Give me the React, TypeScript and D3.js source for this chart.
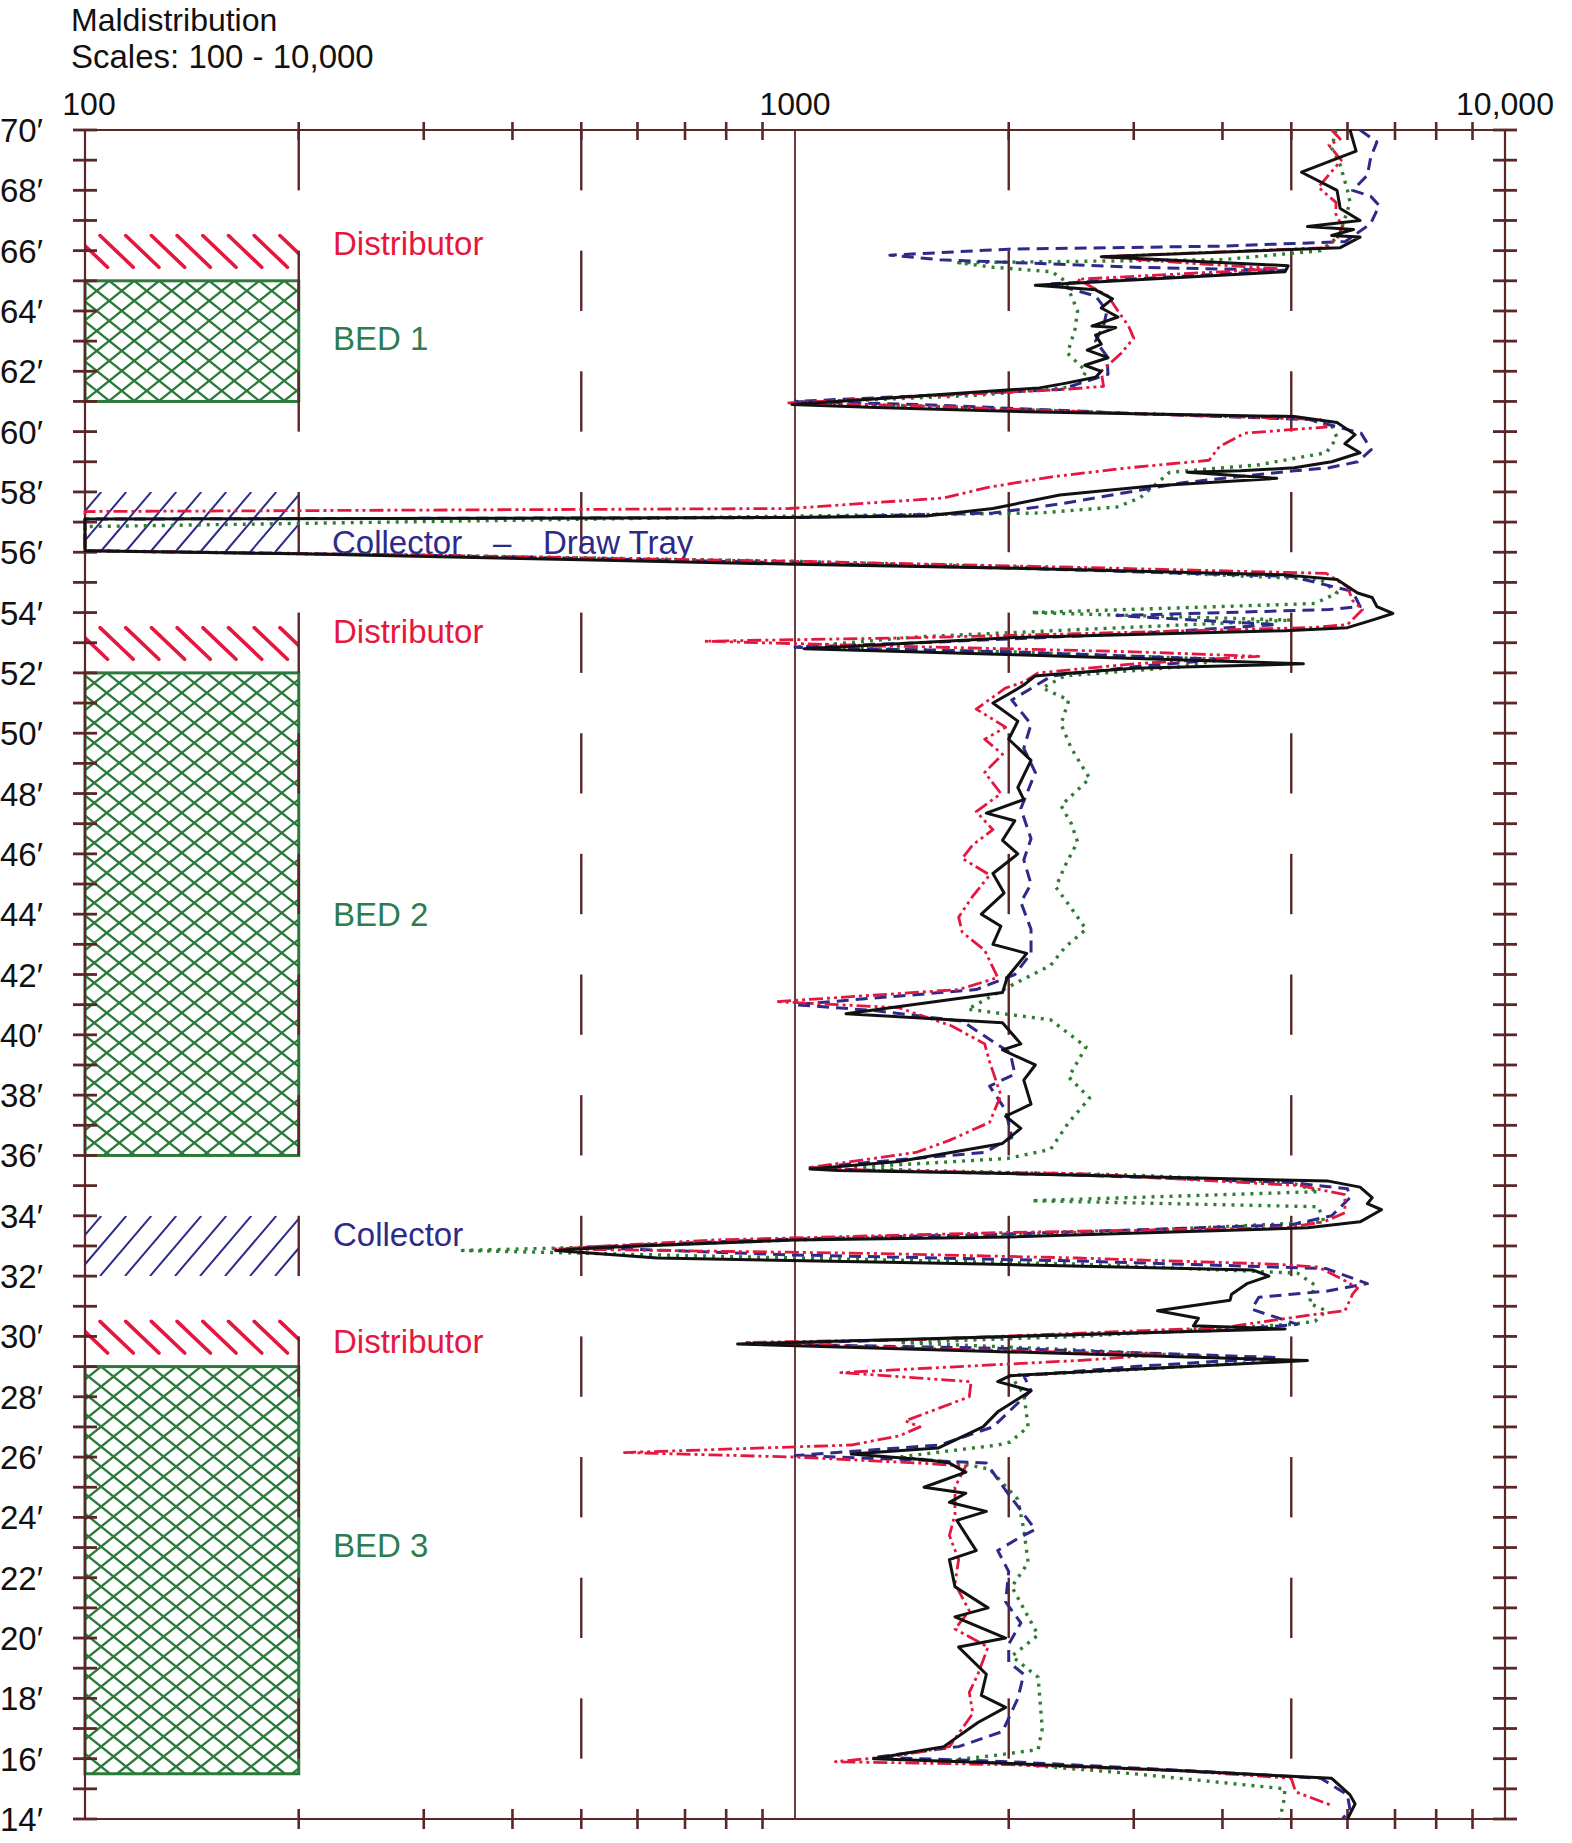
import React from 'react';
import * as d3 from 'd3';

const W = 1572;
const H = 1843;

// ---------- axis data ----------
const depthTicks = d3.range(70, 13.5, -1);
const depthLabels = d3.range(70, 13.5, -2);
const minorValueTicks = [200, 300, 400, 500, 600, 700, 800, 900, 2000, 3000, 4000, 5000, 6000, 7000, 8000, 9000];
const gridValues = [200, 500, 2000, 5000];
const topLabels: [number, string][] = [[100, '100'], [1000, '1000'], [10000, '10,000']];

// ---------- zones (depth in ft) ----------
const distributorZones: [number, number][] = [[66.5, 65.45], [53.5, 52.45], [30.5, 29.45]];
const collectorZones: [number, number][] = [[58, 56], [34, 32]];
const bedZones: [number, number][] = [[65, 61], [52, 36], [29, 15.5]];

// label text, centre depth, kind
const zoneLabels: [string, number, string][] = [
  ['Distributor', 66.25, 'red'],
  ['BED 1', 63.1, 'green'],
  ['Distributor', 53.4, 'red'],
  ['BED 2', 44.0, 'green'],
  ['Collector', 33.4, 'blue'],
  ['Distributor', 29.85, 'red'],
  ['BED 3', 23.1, 'green'],
];
const drawTrayLabel: [string, string, string, number] = ['Collector', '–', 'Draw Tray', 56.35];

// ---------- series: [depth ft, value] ----------
const blackSeries: [number, number][] = [
  [70.0, 6050], [69.3, 6170], [68.6, 5170], [68.0, 5800], [67.4, 5860], [67.0, 6250], [66.8, 5270],
  [66.7, 6120], [66.5, 5700], [66.45, 6250], [66.1, 5860], [65.8, 2700], [65.5, 4950], [65.3, 4900],
  [64.85, 2180], [64.7, 2650], [64.4, 2800], [64.1, 2700], [63.8, 2850], [63.5, 2620], [63.45, 2830],
  [63.2, 2650], [62.9, 2700], [62.7, 2580], [62.45, 2760], [62.2, 2560], [62.0, 2700], [61.8, 2650],
  [61.6, 2400], [61.45, 2210], [60.9, 990], [60.8, 1300], [60.65, 2200], [60.5, 5050], [60.3, 5800],
  [59.9, 6150], [59.6, 5950], [59.3, 6250], [59.0, 5700], [58.8, 5050], [58.7, 4240], [58.65, 3570],
  [58.45, 4770], [58.2, 3180], [57.9, 2360], [57.45, 1900], [57.2, 1530], [57.15, 980], [57.1, 100],
  [56.05, 100], [55.95, 200], [55.75, 500], [55.6, 1000], [55.47, 2040], [55.25, 4900], [55.1, 5800],
  [54.65, 6200], [54.5, 6500], [54.2, 6600], [53.97, 6950], [53.75, 6500], [53.5, 6000], [53.4, 4900],
  [53.17, 2040], [52.85, 1130], [52.8, 1030], [52.6, 2040], [52.3, 5200], [52.15, 3000], [51.95, 2300],
  [51.9, 2180], [51.6, 2100], [51.3, 2000], [51.0, 1900], [50.4, 2060], [49.8, 2000], [49.1, 2150],
  [48.2, 2060], [47.8, 2100], [47.35, 1860], [47.1, 2040], [46.45, 1960], [46.0, 2060], [45.35, 1900],
  [44.7, 1970], [44.0, 1830], [43.6, 1950], [43.0, 1900], [42.7, 2120], [41.9, 1990], [41.4, 1960],
  [40.7, 1180], [40.4, 1960], [39.7, 2080], [39.5, 1960], [39.0, 2180], [38.5, 2100], [37.7, 2150],
  [37.3, 1980], [36.9, 2080], [36.4, 1960], [35.8, 1400], [35.55, 1050], [35.5, 1150], [35.4, 2000],
  [35.15, 5640], [34.95, 6250], [34.6, 6500], [34.4, 6400], [34.2, 6700], [33.8, 6250], [33.6, 5270],
  [33.3, 2010], [33.2, 1000], [32.95, 535], [32.85, 460], [32.6, 640], [32.4, 1840], [32.2, 4420],
  [32.0, 4650], [31.75, 4330], [31.4, 4120], [31.2, 4100], [30.85, 3240], [30.6, 3700], [30.35, 3640],
  [30.25, 4900], [29.75, 830], [29.2, 5270], [28.7, 2010], [28.5, 1930], [28.2, 2150], [27.5, 1930],
  [27.0, 1840], [26.3, 1590], [26.1, 1200], [25.9, 1540], [25.8, 1650], [25.5, 1740], [25.0, 1520],
  [24.8, 1740], [24.5, 1650], [24.2, 1860], [23.9, 1690], [22.9, 1800], [22.6, 1650], [21.7, 1680],
  [21.0, 1870], [20.7, 1680], [20.0, 1980], [19.7, 1700], [18.8, 1860], [18.1, 1830], [17.7, 1980],
  [17.2, 1810], [16.4, 1620], [16.0, 1290], [15.85, 1980], [15.6, 3500], [15.35, 5700], [14.8, 6050],
  [14.5, 6150], [14.0, 6000],
];

const redSeries: [number, number][] = [
  [70.0, 5700], [69.7, 5860], [69.5, 5650], [69.0, 5880], [68.1, 5460], [67.6, 5780], [67.2, 5780],
  [66.8, 5900], [66.4, 5800], [66.1, 5600], [65.8, 2700], [65.6, 3500], [65.4, 4800], [65.05, 2500],
  [64.5, 2760], [64.0, 2850], [63.5, 2950], [63.1, 3000], [62.6, 2880], [62.0, 2700], [61.5, 2720],
  [61.4, 2400], [60.95, 980], [60.85, 1500], [60.6, 3000], [60.4, 5500], [60.15, 5600], [59.95, 4300],
  [59.5, 3960], [59.05, 3830], [58.8, 2950], [58.5, 2300], [58.15, 1870], [57.8, 1620], [57.45, 980],
  [57.35, 100], [56.05, 100], [55.9, 300], [55.7, 1000], [55.5, 2500], [55.3, 5600], [54.85, 6000],
  [54.4, 6100], [54.1, 6300], [53.6, 6000], [53.5, 5300], [53.3, 2500], [53.17, 1500], [53.05, 746],
  [52.9, 1300], [52.7, 3000], [52.55, 4500], [52.3, 3000], [52.0, 2200], [51.7, 2100], [51.5, 1980],
  [50.8, 1800], [50.2, 1980], [49.8, 1850], [49.3, 1960], [48.7, 1850], [48.0, 1950], [47.4, 1800],
  [46.8, 1900], [46.3, 1780], [45.85, 1720], [45.3, 1880], [44.6, 1780], [43.9, 1700], [43.4, 1720],
  [42.8, 1850], [41.9, 1930], [41.5, 1700], [41.1, 940], [40.9, 1400], [40.3, 1660], [39.7, 1850],
  [39.1, 1880], [38.0, 1950], [37.1, 1880], [36.5, 1650], [36.1, 1480], [35.6, 1050], [35.5, 1300],
  [35.4, 2500], [35.0, 5150], [34.7, 5950], [34.1, 5950], [33.8, 5560], [33.6, 4900], [33.45, 2010],
  [33.2, 770], [32.9, 458], [32.75, 1300], [32.6, 2500], [32.4, 4700], [32.3, 5460], [31.85, 5950],
  [31.6, 6200], [31.4, 6100], [30.85, 5950], [30.7, 5270], [30.3, 4030], [29.9, 1500], [29.8, 850],
  [29.6, 1500], [29.4, 3300], [29.2, 2500], [28.8, 1160], [28.5, 1770], [28.0, 1760], [27.2, 1430],
  [27.0, 1500], [26.7, 1400], [26.4, 1200], [26.15, 575], [26.0, 1000], [25.8, 1500], [25.7, 1740],
  [25.0, 1680], [24.1, 1680], [23.4, 1650], [22.6, 1700], [21.8, 1680], [20.9, 1760], [20.3, 1680],
  [19.7, 1870], [18.8, 1810], [18.2, 1760], [17.5, 1780], [16.4, 1650], [16.1, 1400], [15.9, 1140],
  [15.8, 2000], [15.6, 3500], [15.35, 5000], [14.9, 5070], [14.45, 5700],
];

const blueSeries: [number, number][] = [
  [70.0, 6250], [69.6, 6600], [69.1, 6470], [68.5, 6400], [68.0, 6100], [67.8, 6470], [67.5, 6650],
  [66.9, 6470], [66.3, 5960], [66.15, 4000], [66.05, 2000], [65.85, 1360], [65.7, 1600], [65.45, 3000],
  [65.35, 4900], [64.9, 2300], [64.5, 2650], [64.0, 2750], [63.5, 2720], [63.0, 2650], [62.5, 2750],
  [61.9, 2760], [61.4, 2370], [61.0, 1000], [60.9, 1500], [60.6, 3000], [60.4, 5300], [59.95, 6270],
  [59.4, 6480], [59.0, 6200], [58.8, 5650], [58.7, 5050], [58.3, 3500], [57.6, 2360], [57.3, 1900],
  [57.15, 1000], [57.1, 100], [56.05, 100], [55.9, 300], [55.65, 1000], [55.45, 2200], [55.2, 5000],
  [54.7, 6100], [54.2, 6250], [54.1, 5650], [53.9, 2840], [53.6, 4770], [53.3, 3000], [53.0, 1500],
  [52.85, 1000], [52.7, 2000], [52.45, 4000], [52.2, 3000], [51.9, 2300], [51.1, 2020], [50.3, 2150],
  [49.5, 2100], [48.7, 2180], [47.5, 2080], [46.5, 2150], [45.8, 2100], [45.0, 2150], [44.4, 2080],
  [43.5, 2150], [42.7, 2150], [42.0, 2040], [41.5, 1800], [41.0, 1000], [40.8, 1300], [40.45, 1720],
  [39.4, 2010], [38.7, 2040], [38.3, 1880], [37.5, 1980], [36.6, 2020], [36.1, 1850], [35.6, 1050],
  [35.5, 1300], [35.35, 2500], [35.1, 5000], [34.9, 6000], [34.6, 6050], [34.0, 5700], [33.7, 5000],
  [33.4, 2000], [33.2, 900], [32.95, 500], [32.7, 1000], [32.5, 2500], [32.25, 5600], [31.75, 6400],
  [31.5, 5600], [31.3, 4500], [30.9, 4400], [30.4, 5100], [30.2, 4000], [29.75, 900], [29.6, 2000],
  [29.3, 4800], [29.0, 3000], [28.7, 2100], [28.2, 2150], [27.5, 2000], [27.0, 1900], [26.4, 1600],
  [26.05, 1000], [25.9, 1500], [25.8, 1860], [24.9, 1980], [23.6, 2180], [23.3, 2060], [22.9, 1930],
  [22.2, 2000], [21.2, 1980], [20.5, 2080], [19.8, 2000], [19.2, 2000], [18.8, 2100], [18.0, 2060],
  [16.9, 1960], [16.4, 1700], [16.05, 1300], [15.9, 2000], [15.6, 3600], [15.35, 5500], [14.8, 6000],
  [14.3, 6050], [14.0, 5900],
];

const greenSeries: [number, number][] = [
  [70.0, 5780], [69.4, 5700], [68.9, 5850], [68.0, 6000], [67.6, 6050], [66.8, 5900], [66.5, 5850],
  [66.0, 5500], [65.7, 4000], [65.6, 1700], [65.45, 1900], [65.3, 2300], [65.0, 2400], [64.5, 2450],
  [64.0, 2500], [63.4, 2480], [62.6, 2420], [62.0, 2570], [61.5, 2500], [61.2, 1800], [60.95, 1000],
  [60.85, 1500], [60.6, 3000], [60.45, 5200], [60.2, 5700], [59.8, 5800], [59.3, 5600], [58.9, 4500],
  [58.65, 3370], [57.8, 3060], [57.5, 2840], [57.3, 2200], [57.2, 1000], [56.85, 100], [56.05, 100],
  [55.9, 300], [55.7, 1000], [55.45, 2500], [55.1, 5500], [54.65, 5800], [54.3, 5400], [54.0, 2150],
  [53.75, 5000], [53.2, 1500], [52.85, 1000], [52.7, 2000], [52.45, 4000], [52.2, 3500], [51.9, 2400],
  [51.5, 2230], [51.1, 2430], [50.3, 2370], [49.5, 2450], [48.5, 2600], [47.6, 2370], [47.0, 2450],
  [46.4, 2500], [45.6, 2400], [44.9, 2330], [44.2, 2450], [43.5, 2570], [42.9, 2400], [42.3, 2290],
  [41.7, 2040], [40.85, 1750], [40.5, 2290], [39.6, 2570], [38.6, 2430], [37.9, 2600], [37.1, 2430],
  [36.2, 2290], [35.9, 1990], [35.6, 1200], [35.5, 1500], [35.35, 3000], [35.1, 5000], [34.8, 5460],
  [34.5, 2150], [34.3, 5460], [33.8, 5560], [33.5, 3000], [33.2, 1000], [32.95, 500], [32.85, 340],
  [32.65, 800], [32.4, 2500], [32.1, 5100], [31.7, 5400], [31.1, 5300], [30.85, 5600], [30.5, 5400],
  [30.4, 5000], [30.0, 2500], [29.8, 1400], [29.55, 2500], [29.2, 4900], [28.9, 3000], [28.7, 2010],
  [28.1, 2100], [27.0, 2130], [26.5, 2010], [26.4, 1930], [26.0, 1400], [25.8, 1700], [25.6, 1880],
  [24.6, 2060], [23.6, 2100], [22.5, 2130], [21.7, 2020], [20.1, 2200], [19.4, 2020], [18.7, 2200],
  [17.0, 2230], [16.3, 2200], [16.1, 1900], [15.95, 1650], [15.8, 2100], [15.5, 3000], [15.0, 4900],
  [14.6, 4880], [14.0, 4820],
];

// ---------- styles ----------
const AXIS = '#5a2626';
const RED = '#e5173f';
const BLUE = '#2e2a8a';
const GREEN = '#2b7a3b';
const GREEN_TEXT = '#2e7d4f';
const FONT = "'Liberation Sans', Arial, Helvetica, sans-serif";

const seriesStyles = [
  { data: greenSeries, color: '#2e7d32', dash: '3 6', width: 3.4 },
  { data: blueSeries, color: BLUE, dash: '12 7', width: 3 },
  { data: redSeries, color: RED, dash: '14 4 3 4 3 4', width: 2.8 },
  { data: blackSeries, color: '#111111', dash: null, width: 3 },
];

export default function App() {
  const x = d3.scaleLog().domain([100, 10000]).range([85, 1505]);
  const y = d3.scaleLinear().domain([70, 14]).range([130, 1819]);
  const line = d3.line<[number, number]>().x(d => x(d[1])).y(d => y(d[0]));

  const left = x(100);
  const right = x(10000);
  const top = y(70);
  const bottom = y(14);
  const zoneRight = x(200);

  const colorOf = (k: string) => (k === 'red' ? RED : k === 'blue' ? BLUE : GREEN_TEXT);

  const distLines = (t: number, b: number) => {
    const y0 = y(t), y1 = y(b);
    const h = y1 - y0;
    const out: [number, number, number, number][] = [];
    for (let x0 = left + 15 - 25.7 * 2; x0 < zoneRight + 10; x0 += 25.7) {
      out.push([x0, y0, x0 + h * 1.05, y1]);
    }
    return out;
  };
  const collLines = (t: number, b: number) => {
    const y0 = y(t), y1 = y(b);
    const h = y1 - y0;
    const out: [number, number, number, number][] = [];
    for (let x0 = left - 60; x0 < zoneRight + 10; x0 += 25) {
      out.push([x0, y1, x0 + h * 0.85, y0]);
    }
    return out;
  };
  const bedLines = (t: number, b: number) => {
    const y0 = y(t), y1 = y(b);
    const h = y1 - y0;
    const out: [number, number, number, number][] = [];
    const k = 25 / 20;
    for (let x0 = left - h * k - 25; x0 < zoneRight + h * k + 25; x0 += 25) {
      out.push([x0, y0, x0 + h * k, y1]);
      out.push([x0, y0, x0 - h * k, y1]);
    }
    return out;
  };

  const labelFont = 33;

  return (
    <svg
      width={W}
      height={H}
      style={{ position: 'absolute', left: 0, top: 0, background: '#ffffff' }}
      fontFamily={FONT}
    >
      <rect x={0} y={0} width={W} height={H} fill="#ffffff" />
      <defs>
        {distributorZones.map((z, i) => (
          <clipPath id={`dclip${i}`} key={`dc${i}`}>
            <rect x={left} y={y(z[0]) - 2} width={zoneRight - left} height={y(z[1]) - y(z[0]) + 4} />
          </clipPath>
        ))}
        {collectorZones.map((z, i) => (
          <clipPath id={`cclip${i}`} key={`cc${i}`}>
            <rect x={left} y={y(z[0])} width={zoneRight - left} height={y(z[1]) - y(z[0])} />
          </clipPath>
        ))}
        {bedZones.map((z, i) => (
          <clipPath id={`bclip${i}`} key={`bc${i}`}>
            <rect x={left} y={y(z[0])} width={zoneRight - left} height={y(z[1]) - y(z[0])} />
          </clipPath>
        ))}
      </defs>

      {/* title */}
      <text x={71} y={31} fontSize={32} fill="#111">Maldistribution</text>
      <text x={71} y={68} fontSize={33} fill="#111">Scales: 100 - 10,000</text>

      {/* zones */}
      {bedZones.map((z, i) => (
        <g key={`bed${i}`}>
          <g clipPath={`url(#bclip${i})`}>
            {bedLines(z[0], z[1]).map((l, j) => (
              <line key={j} x1={l[0]} y1={l[1]} x2={l[2]} y2={l[3]} stroke={GREEN} strokeWidth={2.3} />
            ))}
          </g>
          <rect x={left} y={y(z[0])} width={zoneRight - left} height={y(z[1]) - y(z[0])}
            fill="none" stroke={GREEN} strokeWidth={3} />
        </g>
      ))}
      {distributorZones.map((z, i) => (
        <g key={`dist${i}`} clipPath={`url(#dclip${i})`}>
          {distLines(z[0], z[1]).map((l, j) => (
            <line key={j} x1={l[0]} y1={l[1]} x2={l[2]} y2={l[3]} stroke={RED} strokeWidth={3.6} strokeLinecap="round" />
          ))}
        </g>
      ))}
      {collectorZones.map((z, i) => (
        <g key={`coll${i}`} clipPath={`url(#cclip${i})`}>
          {collLines(z[0], z[1]).map((l, j) => (
            <line key={j} x1={l[0]} y1={l[1]} x2={l[2]} y2={l[3]} stroke={BLUE} strokeWidth={2} />
          ))}
        </g>
      ))}

      {/* dashed vertical grid lines */}
      {gridValues.map(v => (
        <g key={`g${v}`}>
          {d3.range(0, 14).map(k => (
            <line key={k} x1={x(v)} x2={x(v)} y1={y(70 - 4 * k)} y2={y(68 - 4 * k)}
              stroke={AXIS} strokeWidth={2.4} />
          ))}
        </g>
      ))}
      {/* solid 1000 line */}
      <line x1={x(1000)} x2={x(1000)} y1={top} y2={bottom} stroke={AXIS} strokeWidth={1.8} />

      {/* frame */}
      <line x1={left} x2={right} y1={top} y2={top} stroke={AXIS} strokeWidth={2} />
      <line x1={left} x2={right} y1={bottom} y2={bottom} stroke={AXIS} strokeWidth={2} />
      <line x1={left} x2={left} y1={top} y2={bottom} stroke={AXIS} strokeWidth={2.2} />
      <line x1={right} x2={right} y1={top} y2={bottom} stroke={AXIS} strokeWidth={2.2} />

      {/* value ticks top & bottom */}
      {minorValueTicks.map(v => (
        <g key={`t${v}`}>
          <line x1={x(v)} x2={x(v)} y1={top - 8} y2={top + 10} stroke={AXIS} strokeWidth={2.6} />
          <line x1={x(v)} x2={x(v)} y1={bottom - 10} y2={bottom + 10} stroke={AXIS} strokeWidth={2.6} />
        </g>
      ))}
      {/* depth ticks left & right */}
      {depthTicks.map(dp => (
        <g key={`d${dp}`}>
          <line x1={left - 12} x2={left + 12} y1={y(dp)} y2={y(dp)} stroke={AXIS} strokeWidth={2.8} />
          <line x1={right - 12} x2={right + 12} y1={y(dp)} y2={y(dp)} stroke={AXIS} strokeWidth={2.8} />
        </g>
      ))}

      {/* axis labels */}
      {topLabels.map(([v, t]) => (
        <text key={t} x={x(v) + (v === 100 ? 4 : 0)} y={115} fontSize={32} textAnchor="middle" fill="#111">{t}</text>
      ))}
      {depthLabels.map(dp => (
        <text key={`l${dp}`} x={0} y={y(dp) + 12} fontSize={33} fill="#111">{`${dp}\u2032`}</text>
      ))}

      {/* zone labels */}
      {zoneLabels.map(([t, dp, k], i) => (
        <text key={`zl${i}`} x={333} y={y(dp) + 12} fontSize={labelFont} fill={colorOf(k)}>{t}</text>
      ))}
      <text x={332} y={y(drawTrayLabel[3]) + 12} fontSize={labelFont} fill={BLUE}>{drawTrayLabel[0]}</text>
      <text x={493} y={y(drawTrayLabel[3]) + 12} fontSize={labelFont} fill={BLUE}>{drawTrayLabel[1]}</text>
      <text x={543} y={y(drawTrayLabel[3]) + 12} fontSize={labelFont} fill={BLUE}>{drawTrayLabel[2]}</text>

      {/* data series */}
      {seriesStyles.map((s, i) => (
        <path key={`s${i}`} d={line(s.data) || ''} fill="none" stroke={s.color}
          strokeWidth={s.width} strokeDasharray={s.dash || undefined} strokeLinejoin="round" />
      ))}
    </svg>
  );
}
